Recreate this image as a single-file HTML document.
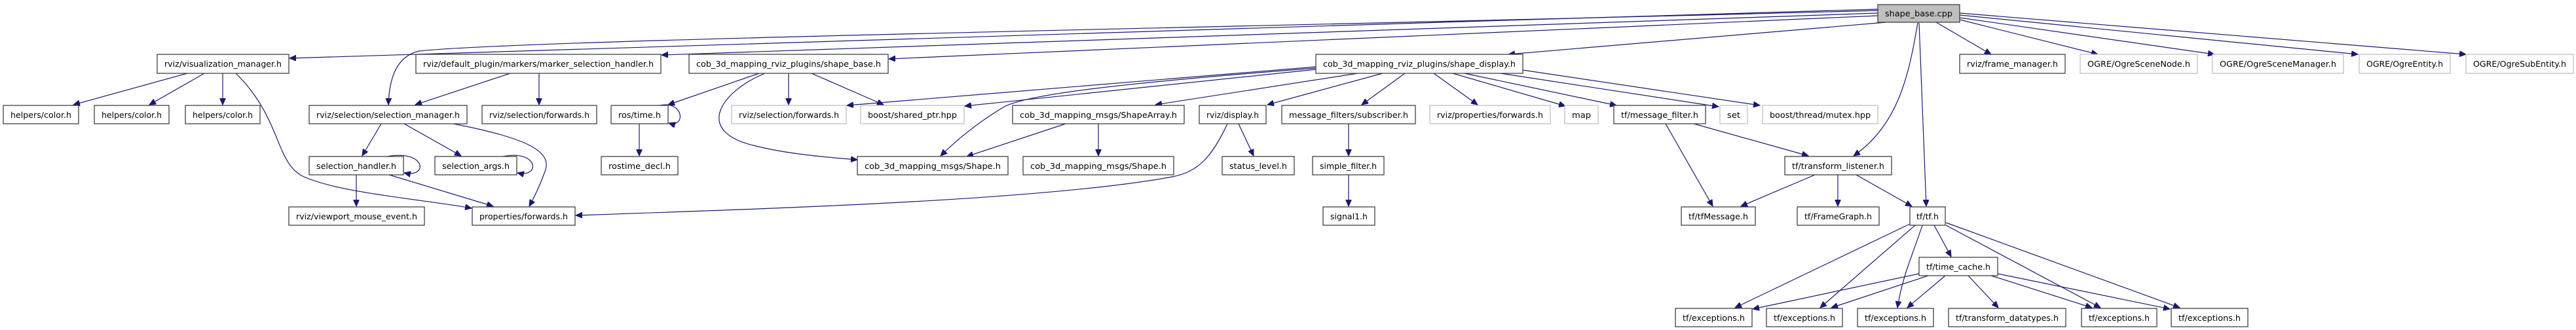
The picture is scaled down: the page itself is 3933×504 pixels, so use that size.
<!DOCTYPE html>
<html><head><meta charset="utf-8"><style>
html,body{margin:0;padding:0;background:#fff;}
svg{display:block;}
text{font-family:"DejaVu Sans","Liberation Sans",sans-serif;font-size:12px;fill:#000;}
.n{fill:#fff;stroke:#404040;stroke-width:1.3;}
.g{fill:#fff;stroke:#bfbfbf;stroke-width:1.3;}
.e{fill:none;stroke:#191970;stroke-width:1.2;}
</style></head><body>
<svg width="3933" height="504" viewBox="0 0 3933 504" xmlns="http://www.w3.org/2000/svg">
<defs>
<marker id="a" markerWidth="11" markerHeight="9" refX="10" refY="4.5" orient="auto" markerUnits="userSpaceOnUse">
<path d="M0,0 L10,4.5 L0,9 Z" fill="#191970" stroke="#191970"/>
</marker>
</defs>
<g class="e" marker-end="url(#a)">
<!-- from shape_base.cpp -->
<path d="M2867,14 C2000,40 1000,70 442,89"/>
<path d="M2867,16 C2000,40 800,60 640,78 Q595,88 593,160"/>
<path d="M2867,20 L1010,84"/>
<path d="M2867,24 L1357,90"/>
<path d="M2880,34 L2303,83"/>
<path d="M2956,34 L3040,83"/>
<path d="M2992,30 L3203,83"/>
<path d="M2992,27 L3381,83"/>
<path d="M2992,23 L3600,83"/>
<path d="M2992,20 L3765,83"/>
<path d="M2928,35 C2915,110 2900,190 2830,238"/>
<path d="M2930,35 L2941,315"/>
<!-- visualization_manager -->
<path d="M286,112 L112,160"/>
<path d="M312,112 L228,160"/>
<path d="M340,112 L340,160"/>
<path d="M360,112 C430,180 420,250 464,270 C520,295 650,305 720,318"/>
<!-- marker_selection_handler -->
<path d="M779,112 L634,160"/>
<path d="M823,112 L823,160"/>
<!-- selection_manager -->
<path d="M582,189 L553,238"/>
<path d="M617,189 L704,238"/>
<path d="M692,189 C800,210 845,230 832,262 Q822,290 808,315"/>
<!-- selection_handler -->
<path d="M591,239 C650,228 655,272 617,264"/>
<path d="M544,267 L544,315"/>
<path d="M594,267 L753,315"/>
<!-- selection_args -->
<path d="M768,239 C822,228 826,272 790,264"/>
<!-- shape_base.h -->
<path d="M1159,112 L1020,160"/>
<path d="M1204,112 L1204,160"/>
<path d="M1239,112 L1349,160"/>
<path d="M1168,112 C1100,140 1060,200 1150,222 C1200,235 1260,240 1309,244"/>
<!-- ros/time -->
<path d="M1007,161 C1045,153 1047,196 1021,188"/>
<path d="M976,189 L976,238"/>
<!-- shape_display -->
<path d="M2009,102 L1293,161"/>
<path d="M2009,106 L1473,162"/>
<path d="M2009,104 C1700,128 1560,145 1530,165 Q1480,195 1436,238"/>
<path d="M2073,112 L1764,160"/>
<path d="M2111,112 L1935,160"/>
<path d="M2145,112 L2079,160"/>
<path d="M2189,112 L2256,160"/>
<path d="M2218,112 L2390,162"/>
<path d="M2236,112 L2468,161"/>
<path d="M2291,112 L2624,163"/>
<path d="M2325,107 L2687,161"/>
<!-- ShapeArray -->
<path d="M1627,189 L1476,239"/>
<path d="M1677,189 L1677,238"/>
<!-- display -->
<path d="M1891,189 L1914,238"/>
<path d="M1874,189 C1850,240 1830,262 1790,270 C1600,305 1200,318 879,329"/>
<!-- filters -->
<path d="M2059,189 L2059,238"/>
<path d="M2059,267 L2059,315"/>
<path d="M2543,189 L2615,315"/>
<path d="M2586,189 L2761,238"/>
<!-- transform_listener -->
<path d="M2771,267 L2658,315"/>
<path d="M2806,267 L2806,315"/>
<path d="M2834,267 L2919,315"/>
<!-- tf.h -->
<path d="M2916,342 L2649,470"/>
<path d="M2924,344 L2779,470"/>
<path d="M2935,344 C2920,390 2905,420 2897,470"/>
<path d="M2953,344 L2979,392"/>
<path d="M2971,344 L3207,470"/>
<path d="M2971,340 L3328,470"/>
<!-- time_cache -->
<path d="M2930,418 L2676,472"/>
<path d="M2944,421 L2796,470"/>
<path d="M2970,421 L2912,470"/>
<path d="M3005,421 L3051,470"/>
<path d="M3040,421 L3194,470"/>
<path d="M3050,418 L3313,472"/>
</g>

<g>
<rect x="2867" y="7" width="125" height="27" fill="#bfbfbf" stroke="#404040" stroke-width="1.3"/>
<text x="2929.5" y="25" text-anchor="middle" textLength="103" lengthAdjust="spacingAndGlyphs">shape_base.cpp</text>
</g>

<g id="nodes"></g>
<!-- normal nodes -->
<rect class="n" x="240" y="83" width="201" height="29"/><text x="340.5" y="102" text-anchor="middle" textLength="179" lengthAdjust="spacingAndGlyphs">rviz/visualization_manager.h</text>
<rect class="n" x="5" y="161" width="115" height="28"/><text x="62.5" y="180" text-anchor="middle" textLength="93" lengthAdjust="spacingAndGlyphs">helpers/color.h</text>
<rect class="n" x="144" y="161" width="114" height="28"/><text x="201" y="180" text-anchor="middle" textLength="92" lengthAdjust="spacingAndGlyphs">helpers/color.h</text>
<rect class="n" x="283" y="161" width="114" height="28"/><text x="340" y="180" text-anchor="middle" textLength="92" lengthAdjust="spacingAndGlyphs">helpers/color.h</text>
<rect class="n" x="472" y="161" width="241" height="28"/><text x="592.5" y="180" text-anchor="middle" textLength="219" lengthAdjust="spacingAndGlyphs">rviz/selection/selection_manager.h</text>
<rect class="n" x="472" y="239" width="144" height="28"/><text x="544" y="258" text-anchor="middle" textLength="122" lengthAdjust="spacingAndGlyphs">selection_handler.h</text>
<rect class="n" x="664" y="239" width="125" height="28"/><text x="726.5" y="258" text-anchor="middle" textLength="103" lengthAdjust="spacingAndGlyphs">selection_args.h</text>
<rect class="n" x="441" y="316" width="207" height="28"/><text x="544.5" y="335" text-anchor="middle" textLength="185" lengthAdjust="spacingAndGlyphs">rviz/viewport_mouse_event.h</text>
<rect class="n" x="721" y="316" width="157" height="28"/><text x="799.5" y="335" text-anchor="middle" textLength="135" lengthAdjust="spacingAndGlyphs">properties/forwards.h</text>
<rect class="n" x="635" y="83" width="374" height="29"/><text x="822" y="102" text-anchor="middle" textLength="352" lengthAdjust="spacingAndGlyphs">rviz/default_plugin/markers/marker_selection_handler.h</text>
<rect class="n" x="736" y="161" width="175" height="28"/><text x="823.5" y="180" text-anchor="middle" textLength="153" lengthAdjust="spacingAndGlyphs">rviz/selection/forwards.h</text>
<rect class="n" x="933" y="161" width="87" height="28"/><text x="976.5" y="180" text-anchor="middle" textLength="65" lengthAdjust="spacingAndGlyphs">ros/time.h</text>
<rect class="n" x="918" y="239" width="117" height="28"/><text x="976.5" y="258" text-anchor="middle" textLength="95" lengthAdjust="spacingAndGlyphs">rostime_decl.h</text>
<rect class="n" x="1052" y="83" width="304" height="29"/><text x="1204" y="102" text-anchor="middle" textLength="282" lengthAdjust="spacingAndGlyphs">cob_3d_mapping_rviz_plugins/shape_base.h</text>
<rect class="g" x="1117" y="161" width="175" height="28"/><text x="1204.5" y="180" text-anchor="middle" textLength="153" lengthAdjust="spacingAndGlyphs">rviz/selection/forwards.h</text>
<rect class="g" x="1314" y="161" width="158" height="28"/><text x="1393" y="180" text-anchor="middle" textLength="136" lengthAdjust="spacingAndGlyphs">boost/shared_ptr.hpp</text>
<rect class="n" x="1309" y="239" width="230" height="28"/><text x="1424" y="258" text-anchor="middle" textLength="208" lengthAdjust="spacingAndGlyphs">cob_3d_mapping_msgs/Shape.h</text>
<rect class="n" x="1546" y="161" width="262" height="28"/><text x="1677" y="180" text-anchor="middle" textLength="240" lengthAdjust="spacingAndGlyphs">cob_3d_mapping_msgs/ShapeArray.h</text>
<rect class="n" x="1562" y="239" width="230" height="28"/><text x="1677" y="258" text-anchor="middle" textLength="208" lengthAdjust="spacingAndGlyphs">cob_3d_mapping_msgs/Shape.h</text>
<rect class="n" x="1831" y="161" width="102" height="28"/><text x="1882" y="180" text-anchor="middle" textLength="80" lengthAdjust="spacingAndGlyphs">rviz/display.h</text>
<rect class="n" x="1866" y="239" width="110" height="28"/><text x="1921" y="258" text-anchor="middle" textLength="88" lengthAdjust="spacingAndGlyphs">status_level.h</text>
<rect class="n" x="1957" y="161" width="204" height="28"/><text x="2059" y="180" text-anchor="middle" textLength="182" lengthAdjust="spacingAndGlyphs">message_filters/subscriber.h</text>
<rect class="n" x="2009" y="83" width="316" height="29"/><text x="2167" y="102" text-anchor="middle" textLength="294" lengthAdjust="spacingAndGlyphs">cob_3d_mapping_rviz_plugins/shape_display.h</text>
<rect class="n" x="2004" y="239" width="109" height="28"/><text x="2058.5" y="258" text-anchor="middle" textLength="87" lengthAdjust="spacingAndGlyphs">simple_filter.h</text>
<rect class="n" x="2020" y="316" width="79" height="28"/><text x="2059.5" y="335" text-anchor="middle" textLength="57" lengthAdjust="spacingAndGlyphs">signal1.h</text>
<rect class="g" x="2183" y="161" width="184" height="28"/><text x="2275" y="180" text-anchor="middle" textLength="162" lengthAdjust="spacingAndGlyphs">rviz/properties/forwards.h</text>
<rect class="g" x="2389" y="161" width="51" height="28"/><text x="2414.5" y="180" text-anchor="middle" textLength="29" lengthAdjust="spacingAndGlyphs">map</text>
<rect class="n" x="2464" y="161" width="140" height="28"/><text x="2534" y="180" text-anchor="middle" textLength="118" lengthAdjust="spacingAndGlyphs">tf/message_filter.h</text>
<rect class="g" x="2626" y="161" width="42" height="28"/><text x="2647" y="180" text-anchor="middle" textLength="20" lengthAdjust="spacingAndGlyphs">set</text>
<rect class="g" x="2691" y="161" width="176" height="28"/><text x="2779" y="180" text-anchor="middle" textLength="154" lengthAdjust="spacingAndGlyphs">boost/thread/mutex.hpp</text>
<rect class="n" x="2567" y="316" width="113" height="28"/><text x="2623.5" y="335" text-anchor="middle" textLength="91" lengthAdjust="spacingAndGlyphs">tf/tfMessage.h</text>
<rect class="n" x="2992" y="83" width="161" height="29"/><text x="3072.5" y="102" text-anchor="middle" textLength="139" lengthAdjust="spacingAndGlyphs">rviz/frame_manager.h</text>
<rect class="g" x="3176" y="83" width="179" height="29"/><text x="3265.5" y="102" text-anchor="middle" textLength="157" lengthAdjust="spacingAndGlyphs">OGRE/OgreSceneNode.h</text>
<rect class="g" x="3378" y="83" width="200" height="29"/><text x="3478" y="102" text-anchor="middle" textLength="178" lengthAdjust="spacingAndGlyphs">OGRE/OgreSceneManager.h</text>
<rect class="g" x="3602" y="83" width="139" height="29"/><text x="3671.5" y="102" text-anchor="middle" textLength="117" lengthAdjust="spacingAndGlyphs">OGRE/OgreEntity.h</text>
<rect class="g" x="3765" y="83" width="164" height="29"/><text x="3847" y="102" text-anchor="middle" textLength="142" lengthAdjust="spacingAndGlyphs">OGRE/OgreSubEntity.h</text>
<rect class="n" x="2725" y="239" width="163" height="28"/><text x="2806.5" y="258" text-anchor="middle" textLength="141" lengthAdjust="spacingAndGlyphs">tf/transform_listener.h</text>
<rect class="n" x="2744" y="316" width="125" height="28"/><text x="2806.5" y="335" text-anchor="middle" textLength="103" lengthAdjust="spacingAndGlyphs">tf/FrameGraph.h</text>
<rect class="n" x="2916" y="316" width="54" height="28"/><text x="2943" y="335" text-anchor="middle" textLength="34" lengthAdjust="spacingAndGlyphs">tf/tf.h</text>
<rect class="n" x="2930" y="393" width="120" height="28"/><text x="2990" y="412" text-anchor="middle" textLength="98" lengthAdjust="spacingAndGlyphs">tf/time_cache.h</text>
<rect class="n" x="2558" y="471" width="117" height="28"/><text x="2616.5" y="490" text-anchor="middle" textLength="95" lengthAdjust="spacingAndGlyphs">tf/exceptions.h</text>
<rect class="n" x="2697" y="471" width="116" height="28"/><text x="2755" y="490" text-anchor="middle" textLength="94" lengthAdjust="spacingAndGlyphs">tf/exceptions.h</text>
<rect class="n" x="2836" y="471" width="116" height="28"/><text x="2894" y="490" text-anchor="middle" textLength="94" lengthAdjust="spacingAndGlyphs">tf/exceptions.h</text>
<rect class="n" x="2975" y="471" width="179" height="28"/><text x="3064.5" y="490" text-anchor="middle" textLength="157" lengthAdjust="spacingAndGlyphs">tf/transform_datatypes.h</text>
<rect class="n" x="3178" y="471" width="115" height="28"/><text x="3235.5" y="490" text-anchor="middle" textLength="93" lengthAdjust="spacingAndGlyphs">tf/exceptions.h</text>
<rect class="n" x="3315" y="471" width="117" height="28"/><text x="3373.5" y="490" text-anchor="middle" textLength="95" lengthAdjust="spacingAndGlyphs">tf/exceptions.h</text>
</svg>
</body></html>
